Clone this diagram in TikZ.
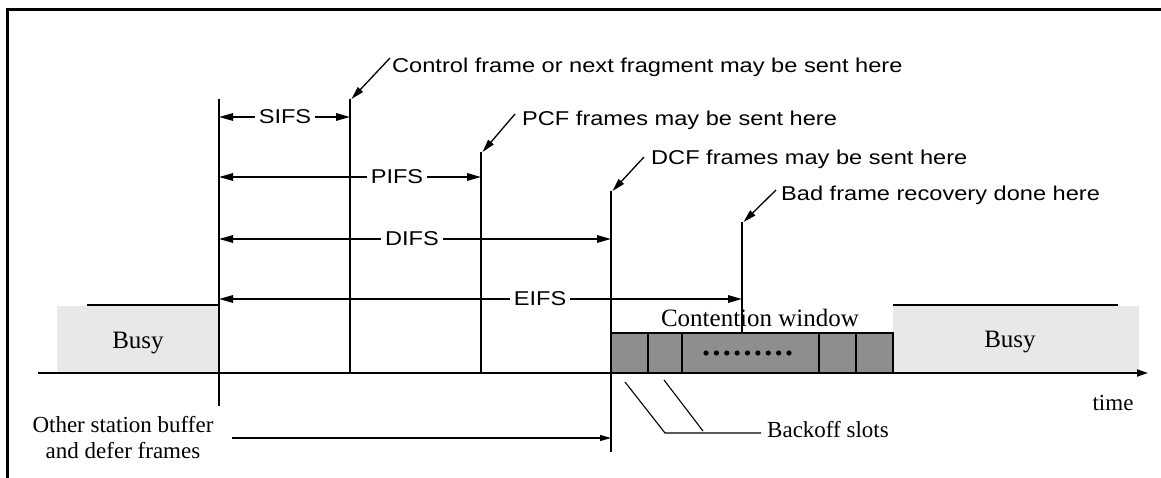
\documentclass[tikz,border=0pt]{standalone}
\usepackage{fontspec}
\setmainfont{Liberation Serif}
\newfontfamily\lsans[FakeStretch=1.18]{Liberation Sans}
\usetikzlibrary{arrows.meta}
\definecolor{busygray}{RGB}{232,232,232}
\definecolor{slotgray}{RGB}{142,142,142}
\tikzset{
  lab/.style={font=\lsans\fontsize{20}{24}\selectfont, inner sep=0pt, anchor=base west},
  ifs/.style={font=\lsans\fontsize{20}{24}\selectfont, inner xsep=4pt, inner ysep=0pt},
  vline/.style={line width=1.8pt},
  dimarrow/.style={line width=1.5pt, -{Triangle[length=14pt,width=7.5pt]}},
  callout/.style={line width=1.3pt, -{Triangle[length=13pt,width=7pt]}},
  thinline/.style={line width=1.1pt},
  sertext/.style={font=\fontsize{23}{26}\selectfont, inner sep=0pt},
  bigser/.style={font=\fontsize{25}{28}\selectfont, inner sep=0pt, anchor=base},
}
\begin{document}
\begin{tikzpicture}[x=1pt,y=-1pt]
\useasboundingbox (0,0) rectangle (1161,478);
% frame
\draw[line width=3pt] (7.5,478) -- (7.5,10) -- (1161,10);

% coordinates of vertical lines
\coordinate (At) at (219,99);  \coordinate (Ab) at (219,406);
\coordinate (Bt) at (350,99);  \coordinate (Bb) at (350,373);
\coordinate (Ct) at (481,152); \coordinate (Cb) at (481,373);
\coordinate (Dt) at (611,191); \coordinate (Db) at (611,452);
\coordinate (Et) at (742,222); \coordinate (Eb) at (742,333);

% busy boxes
\fill[busygray] (57,306) rectangle (219,373);
\fill[busygray] (893,306) rectangle (1139,373);
\draw[thinline] (87,305) -- (219,305);
\draw[thinline] (893,305) -- (1118,305);
\node[bigser] (busyL) at (138,348) {Busy};
\node[bigser] (busyR) at (1010,347) {Busy};

% contention window slots
\fill[slotgray] (611,333) rectangle (893,373);
\draw[thinline] (611,373) -- (611,333) -- (893,333) -- (893,373);
\foreach \xx in {648,682,819,856} \draw[thinline] (\xx,333) -- (\xx,373);
\foreach \i in {0,...,8} \fill (706+10.375*\i,353) circle[radius=2.6pt];
\node[bigser] (cw) at (760,326) {Contention window};

% vertical lines
\draw[vline] (At) -- (Ab);
\draw[vline] (Bt) -- (Bb);
\draw[vline] (Ct) -- (Cb);
\draw[vline] (Dt) -- (Db);
\draw[vline] (Et) -- (Eb);

% time axis
\coordinate (ax0) at (38,373);
\coordinate (ax1) at (1148,373);
\draw[line width=1.8pt, -{Triangle[length=11pt,width=7pt]}] (ax0) -- (ax1);
\node[sertext, anchor=base] (time) at (1113,410) {time};

% interframe spaces
\node[ifs] (sifs) at (285,117) {SIFS};
\draw[dimarrow] (sifs.west) -- (sifs.west -| At);
\draw[dimarrow] (sifs.east) -- (sifs.east -| Bt);
\node[ifs] (pifs) at (397,177) {PIFS};
\draw[dimarrow] (pifs.west) -- (pifs.west -| At);
\draw[dimarrow] (pifs.east) -- (pifs.east -| Ct);
\node[ifs] (difs) at (412,239) {DIFS};
\draw[dimarrow] (difs.west) -- (difs.west -| At);
\draw[dimarrow] (difs.east) -- (difs.east -| Dt);
\node[ifs] (eifs) at (540,299) {EIFS};
\draw[dimarrow] (eifs.west) -- (eifs.west -| At);
\draw[dimarrow] (eifs.east) -- (eifs.east -| Et);

% callout labels
\node[lab] (ctl) at (392,73) {Control frame or next fragment may be sent here};
\coordinate (ctlS) at (390,58);
\draw[callout] (ctlS) -- ([xshift=1.5pt]Bt);
\node[lab] (pcf) at (522,126) {PCF frames may be sent here};
\coordinate (pcfS) at (515,114);
\draw[callout] (pcfS) -- ([xshift=1.5pt]Ct);
\node[lab] (dcf) at (651,165) {DCF frames may be sent here};
\coordinate (dcfS) at (644,157);
\draw[callout] (dcfS) -- ([xshift=1.5pt]Dt);
\node[lab] (bad) at (781,201) {Bad frame recovery done here};
\coordinate (badS) at (776,190);
\draw[callout] (badS) -- ([xshift=1.5pt]Et);

% backoff slots
\node[sertext, anchor=base west] (bo) at (767,437) {Backoff slots};
\coordinate (boA) at (625,382);
\coordinate (boB) at (665,433);
\coordinate (boC) at (664,380);
\coordinate (boD) at (703,431);
\coordinate (boL) at (761,433);
\draw[thinline] (boA) -- (boB) -- (boL);
\draw[thinline] (boC) -- (boD);

% other station
\node[sertext, align=center, anchor=base] (other) at (123,458) {Other station buffer\\and defer frames};
\coordinate (osS) at (232,438);
\draw[line width=1.2pt, -{Triangle[length=11pt,width=6pt]}] (osS) -- (osS -| Db);
\end{tikzpicture}
\end{document}
